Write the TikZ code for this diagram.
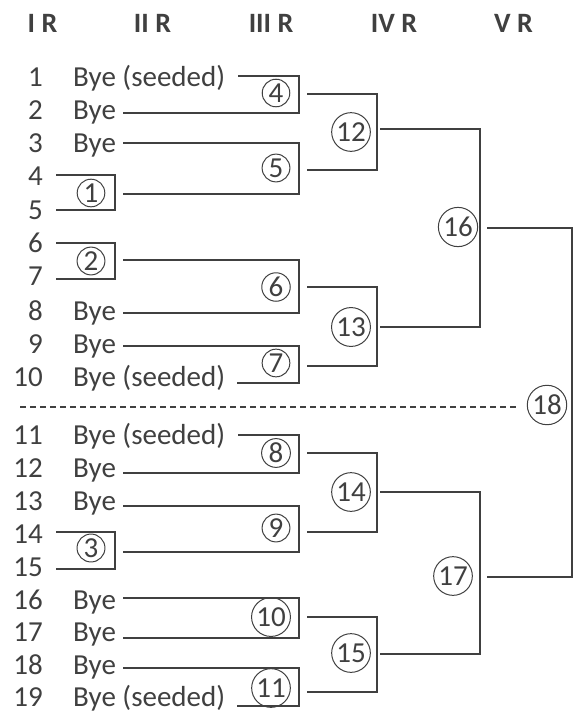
\documentclass[tikz,border=0pt]{standalone}
\usepackage{fontspec}
\setmainfont{Carlito}
\definecolor{ink}{HTML}{404040}
\begin{document}
\begin{tikzpicture}[x=1pt,y=-1pt,
  txt/.style={font=\fontsize{29}{33}\selectfont, text=ink, inner sep=0pt},
  hdr/.style={font=\fontsize{28}{33}\selectfont\bfseries, text=ink, inner sep=0pt},
  mcirc/.style={circle, draw=ink, line width=1pt, font=\fontsize{29}{33}\selectfont, text=ink, inner sep=1.4pt},
  wire/.style={draw=ink, line width=1.3pt},
  dashline/.style={draw=ink, line width=1.3pt, dash pattern=on 6pt off 4pt}]
\useasboundingbox (0,0) rectangle (576,712);

% headers
\node[hdr, anchor=base] (h1) at (42.5,32) {I R};
\node[hdr, anchor=base] (h2) at (152.5,32) {II R};
\node[hdr, anchor=base] (h3) at (271,32) {III R};
\node[hdr, anchor=base] (h4) at (394,32) {IV R};
\node[hdr, anchor=base] (h5) at (513.5,32) {V R};

% entry numbers
\foreach \i/\y in {1/77,2/110,3/143,4/176,5/210,6/243,7/276,8/311,9/344,10/377,
                   11/435,12/468,13/501,14/534,15/567,16/600,17/632,18/665,19/697}
  \node[txt, anchor=base east] (n\i) at (43,\y+9) {\i};

% bye labels
\foreach \i/\y/\t in {1/77/Bye (seeded),2/110/Bye,3/143/Bye,8/311/Bye,9/344/Bye,10/377/Bye (seeded),
                      11/435/Bye (seeded),12/468/Bye,13/501/Bye,16/600/Bye,17/632/Bye,18/665/Bye,19/697/Bye (seeded)}
  \node[txt, anchor=base west] (b\i) at (73,\y+9) {\t};

% match circles
\node[mcirc] (m1) at (91,193) {1};
\node[mcirc] (m2) at (91,261) {2};
\node[mcirc] (m3) at (91,548) {3};
\node[mcirc] (m4) at (276,93) {4};
\node[mcirc] (m5) at (276,168) {5};
\node[mcirc] (m6) at (276,287) {6};
\node[mcirc] (m7) at (276,363) {7};
\node[mcirc] (m8) at (276,453) {8};
\node[mcirc] (m9) at (276,528) {9};
\node[mcirc] (m10) at (271,617) {10};
\node[mcirc] (m11) at (271,688) {11};
\node[mcirc] (m12) at (351,132) {12};
\node[mcirc] (m13) at (351,327) {13};
\node[mcirc] (m14) at (351,492) {14};
\node[mcirc] (m15) at (351,653) {15};
\node[mcirc] (m16) at (458,227) {16};
\node[mcirc] (m17) at (453,576) {17};
\node[mcirc] (m18) at (547,405) {18};

% bracket vertical x positions
\coordinate (vA) at (115,0);
\coordinate (vB) at (299,0);
\coordinate (vC) at (377,0);
\coordinate (vD) at (480,0);
\coordinate (vE) at (572,0);

% entry line starts
\coordinate (e4) at (56,175);  \coordinate (e5) at (56,210);
\coordinate (e6) at (56,243);  \coordinate (e7) at (56,279);
\coordinate (e14) at (56,532); \coordinate (e15) at (56,569);
\coordinate (e1) at (238,76);  \coordinate (e2) at (123,113);
\coordinate (e3) at (123,143); \coordinate (o1) at (123,194);
\coordinate (o2) at (123,260); \coordinate (e8) at (123,313);
\coordinate (e9) at (123,346); \coordinate (e10) at (237,383);
\coordinate (e11) at (238,435); \coordinate (e12) at (123,473);
\coordinate (e13) at (123,506); \coordinate (o3) at (123,552);
\coordinate (e16) at (123,598); \coordinate (e17) at (123,638);
\coordinate (e18) at (123,668); \coordinate (e19) at (237,706);
\coordinate (o4) at (307,94);  \coordinate (o5) at (307,170);
\coordinate (o6) at (307,287); \coordinate (o7) at (307,366);
\coordinate (o8) at (307,453); \coordinate (o9) at (307,532);
\coordinate (o10) at (307,617); \coordinate (o11) at (307,692);
\coordinate (o12) at (380,129); \coordinate (o13) at (380,327);
\coordinate (o14) at (380,492); \coordinate (o15) at (380,654);
\coordinate (o16) at (487,228); \coordinate (o17) at (487,577);

% brackets
\foreach \a/\b/\v in {e4/e5/vA, e6/e7/vA, e14/e15/vA,
                      e1/e2/vB, e3/o1/vB, o2/e8/vB, e9/e10/vB,
                      e11/e12/vB, e13/o3/vB, e16/e17/vB, e18/e19/vB,
                      o4/o5/vC, o6/o7/vC, o8/o9/vC, o10/o11/vC,
                      o12/o13/vD, o14/o15/vD, o16/o17/vE}
  \draw[wire] (\a) -- (\a -| \v) -- (\b -| \v) -- (\b);

% dashed divider
\coordinate (dstart) at (20,407);
\draw[dashline] (dstart) -- ([xshift=-11pt]m18.west |- dstart);
\end{tikzpicture}
\end{document}
